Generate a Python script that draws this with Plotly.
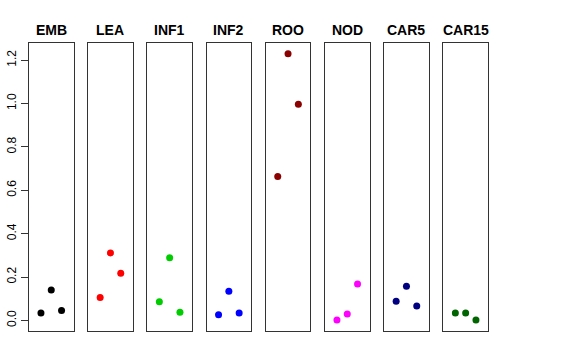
import plotly.graph_objects as go

tissues = ["EMB", "LEA", "INF1", "INF2", "ROO", "NOD", "CAR5", "CAR15"]
colors = ["#000000", "#FF0000", "#00CD00", "#0000FF", "#8B0000", "#FF00FF", "#000080", "#006400"]
rep_x = [1, 2, 3]
values = {
    "EMB":   [0.034, 0.140, 0.045],
    "LEA":   [0.106, 0.311, 0.217],
    "INF1":  [0.086, 0.289, 0.037],
    "INF2":  [0.026, 0.134, 0.034],
    "ROO":   [0.663, 1.230, 0.997],
    "NOD":   [0.002, 0.029, 0.168],
    "CAR5":  [0.088, 0.157, 0.066],
    "CAR15": [0.034, 0.034, 0.002],
}
y_ticks = [0.0, 0.2, 0.4, 0.6, 0.8, 1.0, 1.2]

W, H = 576, 360
fig = go.Figure()
left0, pw, step = 29, 44.5, 59.2
ytop, ybot = 43, 331
layout = {}
for i, t in enumerate(tissues):
    n = i + 1
    xa = "x" if n == 1 else f"x{n}"
    ya = "y" if n == 1 else f"y{n}"
    fig.add_trace(go.Scatter(x=rep_x, y=values[t], mode="markers", xaxis=xa, yaxis=ya,
                             marker=dict(color=colors[i], size=7), showlegend=False,
                             hoverinfo="skip"))
    x0 = left0 + i * step
    x1 = x0 + pw
    layout["xaxis" if n == 1 else f"xaxis{n}"] = dict(
        domain=[x0 / W, x1 / W], range=[-0.16, 4.16], showgrid=False, zeroline=False,
        showticklabels=False, ticks="", showline=True, mirror=True, linecolor="#333333",
        linewidth=1, anchor=ya, fixedrange=True, automargin=False)
    yd = dict(domain=[1 - ybot / H, 1 - ytop / H], range=[-0.049, 1.279], showgrid=False,
              zeroline=False, showline=True, mirror=True, linecolor="#333333", linewidth=1,
              anchor=xa, fixedrange=True, automargin=False)
    if n == 1:
        yd.update(tickvals=y_ticks, ticktext=[f"{v:.1f}" for v in y_ticks], ticks="outside",
                  ticklen=7, tickcolor="#333333", tickangle=-90,
                  tickfont=dict(family="Liberation Sans, Arial", size=12, color="#000000"))
    else:
        yd.update(showticklabels=False, ticks="")
    layout["yaxis" if n == 1 else f"yaxis{n}"] = yd
    fig.add_annotation(text=f"<b>{t}</b>", x=(x0 + x1) / 2 / W, y=1 - 30 / H, xref="paper",
                       yref="paper", showarrow=False, xanchor="center", yanchor="middle",
                       font=dict(family="Liberation Sans, Arial", size=14, color="#000000"))

fig.update_layout(width=W, height=H, margin=dict(l=0, r=0, t=0, b=0, autoexpand=False),
                  plot_bgcolor="white", paper_bgcolor="white", **layout)
fig.write_html("out.html", config={"displayModeBar": False, "staticPlot": True},
               post_script="document.body.style.margin='0';")
